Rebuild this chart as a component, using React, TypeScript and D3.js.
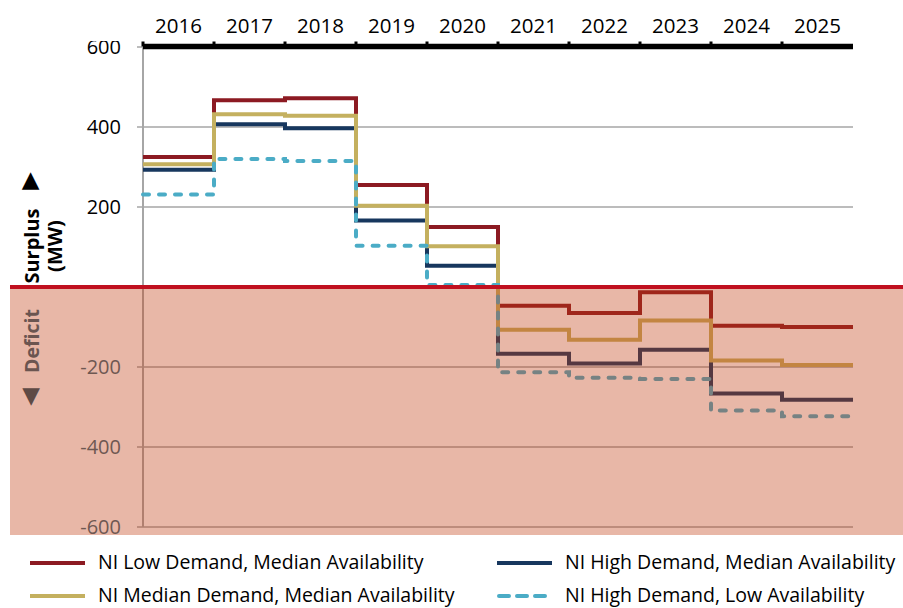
import React from 'react';
import * as d3 from 'd3';

const years = ['2016', '2017', '2018', '2019', '2020', '2021', '2022', '2023', '2024', '2025'];
const lowDemandMedianAvail = [325, 467, 472, 255, 150, -47, -65, -13, -97, -100];
const highDemandMedianAvail = [293, 407, 397, 166, 53, -167, -191, -157, -266, -282];
const medianDemandMedianAvail = [307, 432, 428, 203, 102, -107, -132, -84, -184, -195];
const highDemandLowAvail = [231, 320, 315, 103, 5, -213, -227, -230, -309, -323];
const yTickValues = [600, 400, 200, -200, -400, -600];

const seriesNames = [
  'NI Low Demand, Median Availability',
  'NI High Demand, Median Availability',
  'NI Median Demand, Median Availability',
  'NI High Demand, Low Availability',
];
const seriesValues = [lowDemandMedianAvail, highDemandMedianAvail, medianDemandMedianAvail, highDemandLowAvail];
const seriesColors = ['#8c1a22', '#17375e', '#c4b05f', '#4bacc6'];
const seriesDash = [null, null, null, '6 10'];

const W = 903;
const H = 608;
const X0 = 143;
const X1 = 853;
const FONT = '"Open Sans", Lato, sans-serif';

export default function App() {
  const x = d3.scaleBand<string>().domain(years).range([X0, X1]).paddingInner(0).paddingOuter(0);
  const y = d3.scaleLinear().domain([-600, 600]).range([527, 47]);
  const line = d3
    .line<[number, number]>()
    .x((d) => d[0])
    .y((d) => d[1])
    .curve(d3.curveStepAfter);

  const paths = seriesValues.map((vals) => {
    const pts: [number, number][] = years.map((yr, i) => [x(yr) as number, y(vals[i])]);
    pts.push([X1, y(vals[vals.length - 1])]);
    return line(pts) as string;
  });

  const y0 = y(0);
  const legendItems = [
    { i: 0, lx: 30, ly: 563 },
    { i: 1, lx: 497, ly: 563 },
    { i: 2, lx: 30, ly: 596 },
    { i: 3, lx: 497, ly: 596 },
  ];

  return (
    <svg
      width={W}
      height={H}
      style={{ position: 'absolute', left: 0, top: 0, background: '#fff' }}
      fontFamily={FONT}
    >
      <defs>
        <clipPath id="tickclip">
          <rect x={0} y={41} width={140} height={520} />
        </clipPath>
      </defs>
      {yTickValues.map((v) => (
        <line key={'g' + v} x1={137} x2={X1} y1={y(v)} y2={y(v)} stroke="#a6a6a6" strokeWidth={1.5} />
      ))}
      <line x1={X0} x2={X0} y1={y(600)} y2={y(-600)} stroke="#a6a6a6" strokeWidth={2} />
      <g clipPath="url(#tickclip)">
        {yTickValues
          .filter((v) => v > 0)
          .map((v) => (
            <text key={'t' + v} x={121} y={y(v)} dy="0.36em" textAnchor="end" fontSize={20} fill="#000">
              {v}
            </text>
          ))}
      </g>
      {paths.map((p, i) => (
        <path
          key={'s' + i}
          d={p}
          fill="none"
          stroke={seriesColors[i]}
          strokeWidth={4}
          strokeDasharray={seriesDash[i] || undefined}
          strokeLinecap={seriesDash[i] ? 'round' : 'butt'}
          strokeLinejoin="miter"
        />
      ))}
      <rect x={10} y={y0} width={W - 10} height={535 - y0} fill="rgb(192,61,17)" fillOpacity={0.37} />
      {yTickValues
        .filter((v) => v < 0)
        .map((v) => (
          <text key={'t' + v} x={121} y={y(v)} dy="0.36em" textAnchor="end" fontSize={20} fill="#6e5852">
            {v}
          </text>
        ))}
      <line x1={10} x2={W} y1={y0} y2={y0} stroke="#c0101f" strokeWidth={4} />
      <line x1={X0} x2={X1} y1={46.5} y2={46.5} stroke="#000" strokeWidth={5.5} />
      {years.map((yr) => (
        <rect key={'tk' + yr} x={(x(yr) as number) - 1.5} y={41.5} width={3} height={5} fill="#000" />
      ))}
      {years.map((yr) => (
        <text
          key={'yl' + yr}
          x={(x(yr) as number) + x.bandwidth() / 2}
          y={33}
          textAnchor="middle"
          fontSize={20.5}
          fill="#000"
        >
          {yr}
        </text>
      ))}
      <text x={30.5} y={179} dy="0.35em" textAnchor="middle" fontSize={23} fontFamily="DejaVu Sans" fill="#000">
        ▲
      </text>
      <g transform="translate(39,246) rotate(-90)">
        <text x={0} y={0} textAnchor="middle" fontSize={20} fontWeight="bold" fill="#000">
          Surplus
        </text>
        <text x={0} y={23} textAnchor="middle" fontSize={20} fontWeight="bold" fill="#000">
          (MW)
        </text>
      </g>
      <g transform="translate(39,341) rotate(-90)">
        <text x={0} y={0} textAnchor="middle" fontSize={19.5} fontWeight="bold" fill="#6b5550">
          Deficit
        </text>
      </g>
      <text x={31} y={395} dy="0.35em" textAnchor="middle" fontSize={23} fontFamily="DejaVu Sans" fill="#5e4a45">
        ▼
      </text>
      {legendItems.map(({ i, lx, ly }) => (
        <g key={'lg' + i}>
          <line
            x1={lx + (seriesDash[i] ? 2 : 0)}
            x2={lx + 55 - (seriesDash[i] ? 2 : 0)}
            y1={ly}
            y2={ly}
            stroke={seriesColors[i]}
            strokeWidth={4}
            strokeDasharray={seriesDash[i] ? '10 8' : undefined}
            strokeLinecap={seriesDash[i] ? 'round' : 'butt'}
          />
          <text x={lx + 68} y={ly} dy="0.3em" fontSize={19.5} fill="#000">
            {seriesNames[i]}
          </text>
        </g>
      ))}
    </svg>
  );
}
